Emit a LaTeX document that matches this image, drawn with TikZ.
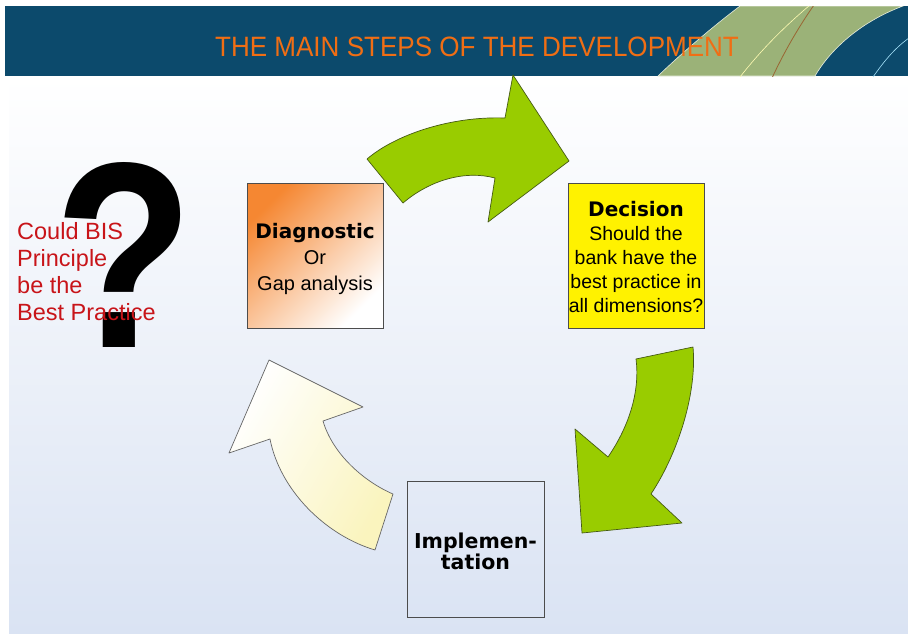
\documentclass[tikz,border=0pt]{standalone}
\usepackage{fontspec}
\setmainfont{Liberation Sans}
\newfontfamily\dvs{DejaVu Sans}
\definecolor{hdrblue}{RGB}{12,74,108}
\definecolor{bodyblue}{RGB}{218,227,243}
\definecolor{swoosh}{RGB}{155,178,120}
\definecolor{titleorange}{RGB}{240,110,20}
\definecolor{arrowgreen}{RGB}{153,204,0}
\definecolor{arrowedge}{RGB}{70,90,20}
\definecolor{boxorange}{RGB}{245,135,50}
\definecolor{qred}{RGB}{200,20,25}
\definecolor{paleyellow}{RGB}{250,244,190}
\tikzset{
  stepbox/.style={draw=black!70, line width=0.8pt, minimum width=136pt, minimum height=145pt, inner sep=0pt, align=center},
  boxtext/.style={inner sep=0pt, align=center},
  greenarrow/.style={fill=arrowgreen, draw=arrowedge, line width=0.7pt, line join=round},
  palearrow/.style={top color=white, bottom color=paleyellow, shading angle=60, draw=black!60, line width=0.7pt, line join=round},
}
\begin{document}
\begin{tikzpicture}[x=1pt,y=-1pt]
\useasboundingbox (0,0) rectangle (908,633);
\fill[white] (0,0) rectangle (908,633);
% body
\shade[top color=white, bottom color=bodyblue] (9,77) rectangle (908,633);
% header
\fill[hdrblue] (5,6) rectangle (908,76);
\begin{scope}
\clip (5,6) rectangle (908,76);
\fill[swoosh, draw=white!75!swoosh, line width=0.6pt] (658,76) .. controls (685,50) and (715,25) .. (740,6) -- (903,6) .. controls (860,22) and (830,50) .. (815,76) -- cycle;
\draw[white!70!yellow, line width=0.6pt] (740,77) .. controls (765,45) and (790,22) .. (810,5);
\draw[brown!80!black, line width=0.8pt] (772,78) .. controls (785,50) and (800,25) .. (814,5);
\draw[white!65!cyan, line width=0.6pt] (873,77) .. controls (885,60) and (895,48) .. (909,38);
\end{scope}
\node[text=titleorange, font=\fontsize{28}{30}\selectfont, inner sep=0pt] (title) at (477,47) {\scalebox{0.93}[1]{THE MAIN STEPS OF THE DEVELOPMENT}};
% question mark
\node[font=\fontsize{265}{265}\selectfont\bfseries, inner sep=0pt] (qm) at (124,255) {\scalebox{0.86}[1]{?}};
\node[text=qred, font=\fontsize{23.5}{27.2}\selectfont, align=left, anchor=north west, inner sep=0pt] (bis) at (17,222) {Could BIS\\Principle\\be the\\Best Practice};
% arrows
\draw[greenarrow] (367,159) .. controls (395,135) and (450,116) .. (505,118) -- (513,75) -- (569,161) -- (488,222) -- (495,178) .. controls (465,170) and (430,180) .. (403,203) -- cycle;
\draw[greenarrow] (636,359) -- (693,347) .. controls (697,390) and (680,450) .. (651,494) -- (682,523) -- (582,533) -- (575,429) -- (608,457) .. controls (630,425) and (640,390) .. cycle;
\draw[palearrow] (375,550) -- (393,494) .. controls (365,482) and (333,455) .. (323,421) -- (363,407) -- (269,360) -- (229,453) -- (270,439) .. controls (280,490) and (325,535) .. cycle;
% boxes
\node[stepbox, top color=boxorange, bottom color=white, shading angle=45] (diag) at (315,255.5) {};
\node[boxtext, font=\fontsize{20}{26}\selectfont] (diagtext) at (315,258.5) {{\dvs\bfseries Diagnostic}\\Or\\Gap analysis};
\node[stepbox, fill=yellow] (dec) at (636,255.5) {};
\node[boxtext, font=\fontsize{19.5}{24}\selectfont] (dectext) at (636,257) {{\dvs\bfseries\fontsize{20}{24}\selectfont Decision}\\Should the\\bank have the\\best practice in\\all dimensions?};
\node[stepbox, minimum width=137pt, minimum height=136pt] (impl) at (475.5,549) {};
\node[boxtext, font=\dvs\bfseries\fontsize{20.5}{21}\selectfont] (impltext) at (475.5,551) {Implemen-\\tation};
\end{tikzpicture}
\end{document}
